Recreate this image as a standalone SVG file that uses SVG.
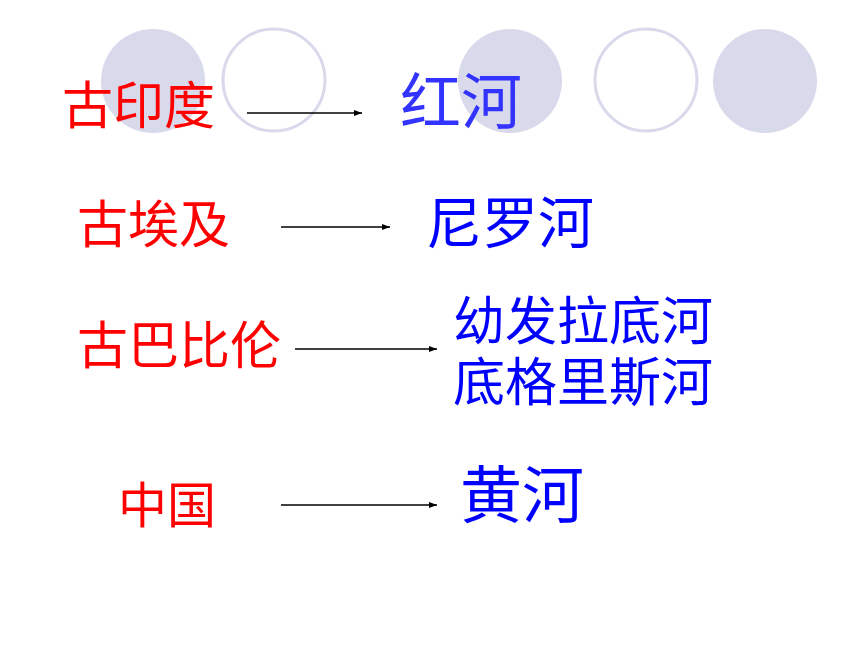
<svg xmlns="http://www.w3.org/2000/svg" width="860" height="645" viewBox="0 0 860 645">
<style>
.bg{fill:#ffffff}
.cf{fill:#D9D9EC}
.co{fill:none;stroke:#D9D9EC;stroke-width:3}
.r{fill:#FF0000;font-family:"Noto Sans CJK SC",sans-serif}
.b{fill:#0000FF;font-family:"Noto Sans CJK SC",sans-serif}
.c{stroke:#000000;stroke-width:1.3;fill:none;marker-end:url(#ah)}
</style>
<defs>
<marker id="ah" markerWidth="8" markerHeight="6" refX="8" refY="3" orient="auto" markerUnits="userSpaceOnUse">
<path d="M0,0 L8,3 L0,6 Z" fill="#000000"/>
</marker>
</defs>
<rect class="bg" x="0" y="0" width="860" height="645"/>
<g id="decor">
<circle class="cf" cx="153" cy="81" r="52"/>
<circle class="co" cx="274" cy="80" r="51"/>
<circle class="cf" cx="510" cy="81" r="52"/>
<circle class="co" cx="646" cy="80" r="51"/>
<circle class="cf" cx="765" cy="81" r="52"/>
</g>
<g id="connectors">
<line class="c" x1="247" y1="113" x2="362" y2="113"/>
<line class="c" x1="281" y1="227" x2="390" y2="227"/>
<line class="c" x1="295" y1="349" x2="437" y2="349"/>
<line class="c" x1="281" y1="505" x2="437" y2="505"/>
</g>
<g id="n-india"><text class="r" x="62" y="124" font-size="51">古印度</text></g>
<g id="n-red"><text class="b" x="400" y="124" font-size="61" style="fill:#3333FF">红河</text></g>
<g id="n-egypt"><text class="r" x="77" y="243" font-size="51">古埃及</text></g>
<g id="n-nile"><text class="b" x="426" y="243" font-size="56">尼罗河</text></g>
<g id="n-babylon"><text class="r" x="77" y="364" font-size="51">古巴比伦</text></g>
<g id="n-tigris">
<text class="b" x="453" y="340" font-size="52">幼发拉底河</text>
<text class="b" x="453" y="401" font-size="52">底格里斯河</text>
</g>
<g id="n-china"><text class="r" x="118" y="523" font-size="49">中国</text></g>
<g id="n-yellow"><text class="b" x="460" y="518" font-size="62">黄河</text></g>
</svg>
